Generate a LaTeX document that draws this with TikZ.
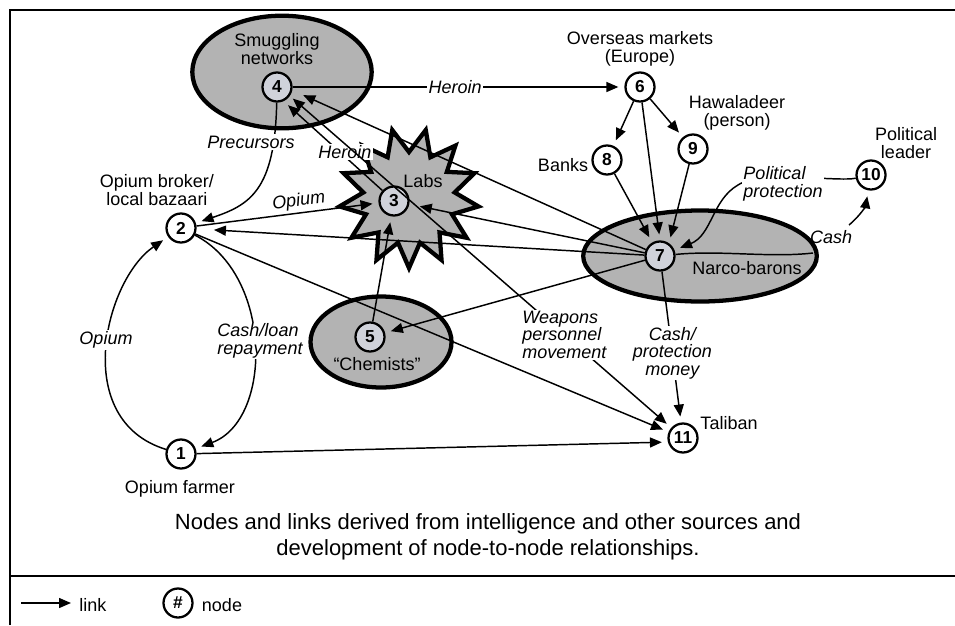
\documentclass[tikz,border=0pt]{standalone}
\usepackage{fontspec}
\setmainfont{Liberation Sans}
\usetikzlibrary{arrows.meta}
\definecolor{groupgray}{RGB}{179,179,179}
\definecolor{innergray}{RGB}{208,210,218}

\begin{document}
\begin{tikzpicture}[x=0.75pt, y=-0.75pt,
  link/.style={line width=1.1pt, -{Triangle[length=9pt,width=7.5pt]}, shorten >=4.5pt},
  biarrow/.style={line width=1.1pt, {Triangle[length=9pt,width=7.5pt]}-{Triangle[length=9pt,width=7.5pt]}, shorten >=4.5pt, shorten <=3pt},
  plainline/.style={line width=1.1pt},
  num/.style={circle, draw, line width=1.7pt, minimum size=21.75pt, inner sep=0pt, fill=white,
              font=\fontsize{13}{13}\selectfont\bfseries},
  numin/.style={num, fill=innergray},
  group/.style={draw, line width=3.2pt, fill=groupgray},
  txt/.style={font=\fontsize{13.5}{13}\selectfont, inner sep=0pt, align=center},
  elabel/.style={font=\fontsize{13.5}{13}\selectfont\itshape, inner sep=1pt, align=center},
  frame/.style={line width=1.5pt}
]
\useasboundingbox (0,0) rectangle (955,625);

% outer frame and legend separator
\draw[frame] (10,625) -- (10,10) -- (955,10);
\draw[frame] (10,576) -- (955,576);

% grouping shapes
\draw[group] (282,72) ellipse [x radius=89.7, y radius=56.3];
\draw[group] (381,342) ellipse [x radius=70.5, y radius=45.5];
\draw[group] (700,256) ellipse [x radius=116.8, y radius=45.5];
\draw[group, line join=miter]
  plot[domain=0:25, samples=26, variable=\k]
  ({409+(58+12*cos(180*\k))*cos(103.85+13.846*\k)},
   {198-(58+12*cos(180*\k))*sin(103.85+13.846*\k)}) -- cycle;

% numbered nodes
\node[num]   (n1)  at (181,454) {1};
\node[num]   (n2)  at (181,228) {2};
\node[numin] (n3)  at (394,201) {3};
\node[numin] (n4)  at (277,87)  {4};
\node[numin] (n5)  at (370,337) {5};
\node[num]   (n6)  at (640,87)  {6};
\node[numin] (n7)  at (660,256) {7};
\node[num]   (n8)  at (607,160) {8};
\node[num]   (n9)  at (693,149) {9};
\node[num]   (n10) at (871,175) {10};
\node[num]   (n11) at (683,438) {11};

% node names
\node[txt] (tsmug)   at (277,49)  {Smuggling\\networks};
\node[txt] (tbroker) at (157,190) {Opium broker/\\local bazaari};
\node[txt] (tlabs)   at (423,181) {Labs};
\node[txt] (tover)   at (640,49)  {Overseas markets\\(Europe)};
\node[txt] (thawala) at (737,113) {Hawaladeer\\(person)};
\node[txt] (tbanks)  at (563,165) {Banks};
\node[txt] (tpol)    at (906,143) {Political\\leader};
\node[txt] (tnarco)  at (747,268) {Narco-barons};
\node[txt] (ttali)   at (729,423) {Taliban};
\node[txt] (tfarmer) at (180,489) {Opium farmer};
\node[txt] (tchem)   at (377,364) {“Chemists”};

% links
\draw[link] (n4) -- node[elabel, fill=white, pos=0.49] {Heroin} (n6);
\draw[link] (n4) .. controls (275,190) and (250,205) .. (n2);
\node[elabel, fill=white] (lprec) at (251,142) {Precursors};
\draw[link] (n3) -- (n4.-65);
\node[elabel, fill=white] (lher) at (345,152) {Heroin};
\draw[biarrow] (n4.-35) -- node[elabel, fill=white, align=left, pos=0.72] {Weapons\\personnel\\movement} (n11);
\draw[link, shorten >=9pt] (n7) -- (n4.-12);

\draw[link] (n2) -- node[elabel, above, sloped, pos=0.57, inner sep=2pt] {Opium} (n3);
\draw[link, shorten >=13pt] (n7) -- (n2);
\draw[link, shorten >=8pt] (n7) -- (n3);
\draw[link] (n7) -- (n5);
\draw[link] (n5) -- (n3);
\draw[link] (n2) -- (n11);
\draw[link] (n1) -- (n11.195);

% farmer / broker exchange
\draw[link] (n1) .. controls (70,420) and (105,280) .. (n2);
\node[elabel, fill=white] (lop1) at (106,340) {Opium};
\draw[link] (n2) .. controls (273,275) and (273,420) .. (n1);
\node[elabel, fill=white, align=left, inner sep=0.5pt] (lcash1) at (260,341) {Cash/loan\\repayment};

% money flows
\draw[link] (n6) -- (n8);
\draw[link] (n6) -- (n9);
\draw[link] (n6) -- (n7.90);
\draw[link] (n8) -- (n7.120);
\draw[link] (n9) -- (n7.55);

\draw[link] (n10) .. controls (838,182) and (760,170) .. (738,185) .. controls (712,200) and (712,235) .. (n7);
\node[elabel, fill=white, align=left] (lpolprot) at (783,184) {Political\\protection};

\coordinate (cashin) at (813,253);
\coordinate (cashout) at (849,225);
\draw[plainline] (n7) .. controls (720,250) and (770,258) .. (cashin);
\node[elabel] (lcash) at (831,237) {Cash};
\draw[link] (cashout) to[out=40, in=-100] (n10);

\draw[link] (n7) -- node[elabel, fill=white, pos=0.54] {Cash/\\protection\\money} (n11);

% caption
\node[font=\fontsize{16.5}{19.5}\selectfont, align=center] (caption) at (488,537)
  {Nodes and links derived from intelligence and other sources and\\development of node-to-node relationships.};

% legend
\coordinate (legA) at (21,603);
\coordinate (legB) at (71,603);
\draw[link, shorten >=0pt] (legA) -- (legB);
\node[txt] (tlink) at (93,605) {link};
\node[num] (legnode) at (178,603) {\#};
\node[txt] (tnode) at (222,605) {node};
\end{tikzpicture}
\end{document}
